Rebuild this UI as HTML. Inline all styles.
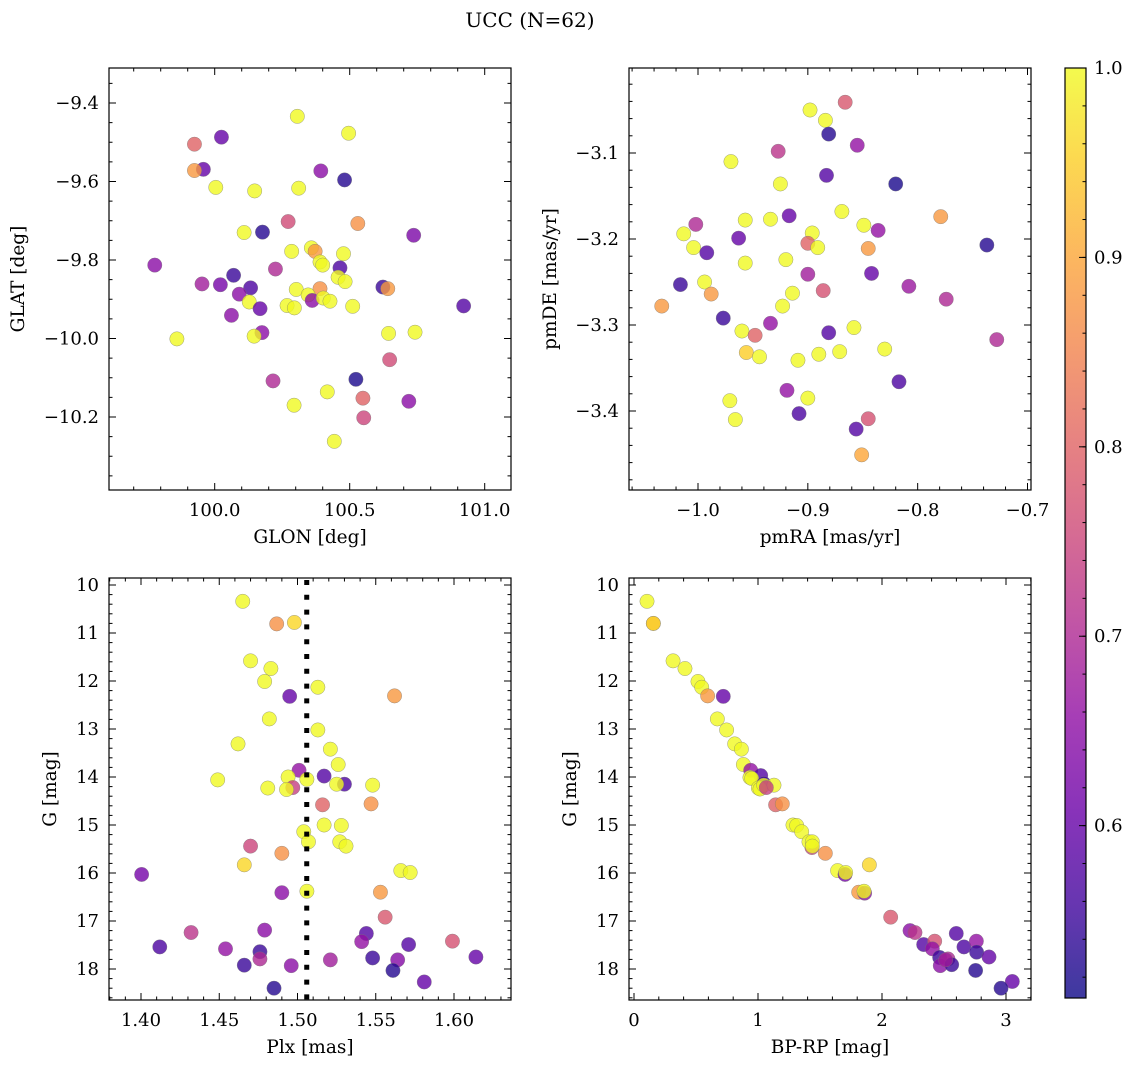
<!DOCTYPE html>
<html><head><meta charset="utf-8"><style>
html,body{margin:0;padding:0;background:#fff;}
svg text{font-family:"DejaVu Serif","Liberation Serif",serif;fill:#000;}
</style></head><body>
<svg id="fig" width="1136" height="1067" viewBox="0 0 1136 1067" xmlns="http://www.w3.org/2000/svg">
<defs>
<linearGradient id="plasma" x1="0" y1="1" x2="0" y2="0"></linearGradient>
</defs>
<text x="530" y="27" font-size="20" text-anchor="middle">UCC (N=62)</text>
<g id="layer"></g>
</svg>
<script>
// ---- data ----
const p1Lon=[100.306,100.496,100.025,99.925,99.958,99.925,100.393,100.481,100.004,100.148,100.311,100.272,100.530,100.109,100.177,100.737,100.285,100.358,100.372,100.477,99.778,100.390,100.400,100.225,100.464,100.070,99.953,100.021,100.133,100.457,100.483,100.091,100.302,100.390,100.346,100.361,100.402,100.427,100.623,100.641,100.128,100.168,100.268,100.295,100.511,100.922,100.062,99.860,100.175,100.146,100.644,100.742,100.648,100.523,100.216,100.417,100.549,100.294,100.719,100.552,100.443];
const p1Lat=[-9.434,-9.477,-9.487,-9.505,-9.569,-9.572,-9.573,-9.596,-9.615,-9.624,-9.617,-9.702,-9.707,-9.730,-9.729,-9.737,-9.778,-9.769,-9.778,-9.784,-9.813,-9.805,-9.813,-9.823,-9.820,-9.839,-9.861,-9.863,-9.871,-9.844,-9.855,-9.887,-9.875,-9.873,-9.889,-9.903,-9.897,-9.905,-9.869,-9.873,-9.907,-9.924,-9.916,-9.922,-9.918,-9.917,-9.941,-10.001,-9.985,-9.994,-9.987,-9.984,-10.054,-10.104,-10.108,-10.136,-10.152,-10.170,-10.160,-10.202,-10.262];
const p1Prob=[1,1,0.6,0.8,0.6,0.88,0.65,0.53,1,1,1,0.76,0.87,1,0.53,0.63,1,1,0.88,1,0.65,1,1,0.7,0.57,0.55,0.68,0.62,0.57,1,1,0.65,1,0.87,1,0.65,1,1,0.55,0.88,1,0.6,1,1,1,0.58,0.65,1,0.65,1,1,1,0.76,0.52,0.7,1,0.8,1,0.65,0.75,1];

const p2Ra=[-0.866,-0.898,-0.884,-0.881,-0.855,-0.927,-0.970,-0.883,-0.820,-0.925,-0.869,-0.779,-0.957,-0.934,-0.917,-1.002,-1.013,-0.896,-0.849,-0.836,-0.900,-0.891,-0.963,-1.004,-0.992,-0.845,-0.737,-0.957,-0.920,-0.900,-0.842,-1.016,-0.994,-0.988,-0.914,-0.886,-0.808,-0.774,-1.033,-0.923,-0.977,-0.960,-0.948,-0.934,-0.881,-0.858,-0.956,-0.944,-0.909,-0.890,-0.871,-0.830,-0.728,-0.817,-0.919,-0.900,-0.971,-0.908,-0.966,-0.845,-0.856,-0.851];
const p2De=[-3.041,-3.050,-3.062,-3.078,-3.091,-3.098,-3.110,-3.126,-3.136,-3.136,-3.168,-3.174,-3.178,-3.177,-3.173,-3.183,-3.194,-3.193,-3.184,-3.190,-3.205,-3.210,-3.199,-3.210,-3.216,-3.211,-3.207,-3.228,-3.224,-3.241,-3.240,-3.253,-3.250,-3.264,-3.263,-3.260,-3.255,-3.270,-3.278,-3.278,-3.292,-3.307,-3.312,-3.298,-3.309,-3.303,-3.332,-3.337,-3.341,-3.334,-3.331,-3.328,-3.317,-3.366,-3.376,-3.385,-3.388,-3.403,-3.410,-3.409,-3.421,-3.451];
const p2Prob=[0.78,1,1,0.53,0.66,0.72,1,0.58,0.52,1,1,0.88,1,1,0.6,0.7,1,1,1,0.66,0.8,1,0.6,1,0.58,0.88,0.53,1,1,0.68,0.6,0.55,1,0.88,1,0.77,0.67,0.7,0.88,1,0.55,1,0.8,0.66,0.58,1,0.95,1,1,1,1,1,0.7,0.57,0.66,1,1,0.57,1,0.77,0.58,0.9];

const p3Plx=[1.465,1.4867,1.498,1.470,1.483,1.479,1.513,1.495,1.562,1.482,1.513,1.462,1.521,1.526,1.501,1.517,1.449,1.494,1.506,1.530,1.525,1.548,1.497,1.481,1.493,1.516,1.547,1.517,1.528,1.504,1.507,1.527,1.531,1.470,1.490,1.466,1.566,1.572,1.4004,1.490,1.506,1.553,1.556,1.432,1.479,1.544,1.541,1.599,1.412,1.454,1.571,1.476,1.476,1.466,1.496,1.521,1.548,1.564,1.614,1.561,1.581,1.485];
const p3G=[10.34,10.81,10.78,11.58,11.74,12.01,12.13,12.32,12.31,12.79,13.02,13.31,13.42,13.74,13.86,13.98,14.06,14.00,14.05,14.15,14.15,14.17,14.22,14.23,14.26,14.58,14.56,15.00,15.01,15.14,15.35,15.35,15.44,15.44,15.59,15.83,15.95,15.99,16.03,16.41,16.38,16.40,16.92,17.24,17.19,17.26,17.43,17.42,17.54,17.58,17.49,17.64,17.79,17.92,17.93,17.81,17.77,17.81,17.75,18.03,18.27,18.40];
const p3Prob=[1,0.87,0.96,1,1,1,1,0.6,0.88,1,1,1,1,1,0.66,0.58,1,1,1,0.57,1,1,0.74,1,1,0.8,0.87,1,1,1,1,1,1,0.75,0.87,0.96,1,1,0.62,0.65,1,0.88,0.78,0.72,0.65,0.58,0.66,0.77,0.57,0.66,0.58,0.55,0.7,0.55,0.65,0.68,0.55,0.64,0.6,0.53,0.6,0.53];
const plxMean=1.5059;

const p4Col=[0.105,0.156,0.156,0.315,0.411,0.516,0.546,0.594,0.720,0.672,0.747,0.812,0.866,0.882,0.941,1.022,0.935,0.949,1.048,1.003,1.016,1.046,1.129,1.067,1.142,1.196,1.282,1.312,1.352,1.435,1.411,1.438,1.438,1.543,1.898,1.642,1.702,1.707,1.812,1.860,1.855,2.070,2.226,2.266,2.336,2.425,2.406,2.465,2.532,2.470,2.562,2.599,2.661,2.761,2.763,2.863,2.755,3.051,2.960,2.513];
const p4G=[10.34,10.80,10.80,11.58,11.74,12.01,12.13,12.31,12.32,12.79,13.02,13.31,13.42,13.74,13.86,13.97,14.01,14.03,14.14,14.23,14.25,14.17,14.17,14.22,14.58,14.56,15.00,15.01,15.14,15.47,15.35,15.35,15.44,15.59,15.83,15.95,16.03,15.99,16.40,16.42,16.38,16.92,17.20,17.24,17.49,17.42,17.58,17.76,17.79,17.93,17.91,17.26,17.54,17.42,17.65,17.75,18.03,18.26,18.40,17.81];
const p4Prob=[1,0.88,0.96,1,1,1,1,0.88,0.6,1,1,1,1,1,0.66,0.58,1,1,0.55,1,1,1,1,0.74,0.8,0.87,1,1,1,0.75,1,1,1,0.87,0.96,1,0.62,1,0.88,0.65,1,0.78,0.65,0.72,0.58,0.77,0.66,0.55,0.7,0.65,0.55,0.58,0.57,0.66,0.55,0.6,0.53,0.6,0.53,0.68];

const cbTicks=[0.6,0.7,0.8,0.9,1.0];
const cbMin=0.509, cbMax=1.0;

// ---- helpers ----
const NS='http://www.w3.org/2000/svg';
const layer=document.getElementById('layer');
function mk(tag,attrs,parent){const e=document.createElementNS(NS,tag);for(const k in attrs)e.setAttribute(k,attrs[k]);(parent||layer).appendChild(e);return e;}
function lin(d0,d1,r0,r1){return v=>r0+(v-d0)*(r1-r0)/(d1-d0);}
const stops=['#0d0887','#41049d','#6a00a8','#8f0da4','#b12a90','#cc4778','#e16462','#f2844b','#fca636','#fcce25','#f0f921'];
function hex(h){return [1,3,5].map(i=>parseInt(h.substr(i,2),16));}
function plasma(t){t=Math.max(0,Math.min(1,t));const f=t*10,i=Math.min(9,Math.floor(f)),u=f-i;const a=hex(stops[i]),b=hex(stops[i+1]);return 'rgb('+a.map((v,k)=>Math.round(v+(b[k]-v)*u)).join(',')+')';}
function pc(p){return plasma((p-cbMin)/(cbMax-cbMin));}
function fmt(v,d){const s=Math.abs(v).toFixed(d);return (v<-1e-9?'\u2212':'')+s;}
const TF=18, LF=18.5;

function panel(cfg){
  const g=mk('g',{});
  
  
  const {x0,x1,y0,y1}=cfg;
  const sx=lin(cfg.xd[0],cfg.xd[1],cfg.xr[0],cfg.xr[1]);
  const sy=lin(cfg.yd[0],cfg.yd[1],cfg.yr[0],cfg.yr[1]);
  const pg=mk('g',{},g);
  
  
  for(let i=0;i<cfg.xs.length;i++){
    const c=mk('circle',{cx:sx(cfg.xs[i]),cy:sy(cfg.ys[i]),r:7.2,fill:pc(cfg.ps[i]),'fill-opacity':0.8,stroke:'#777','stroke-width':0.5,'stroke-opacity':0.7},pg);
    
    
  }
  if(cfg.extra)cfg.extra(g,sx,sy);
  const fr=mk('rect',{x:x0,y:y0,width:x1-x0,height:y1-y0,fill:'none',stroke:'#000','stroke-width':1.2},g);
  
  
  const eps=1e-9;
  function xInv(p){return cfg.xd[0]+(p-cfg.xr[0])*(cfg.xd[1]-cfg.xd[0])/(cfg.xr[1]-cfg.xr[0]);}
  function yInv(p){return cfg.yd[0]+(p-cfg.yr[0])*(cfg.yd[1]-cfg.yd[0])/(cfg.yr[1]-cfg.yr[0]);}
  const xa=xInv(x0),xb=xInv(x1);
  const xs0=Math.ceil(Math.min(xa,xb)/cfg.xminor-eps);
  for(let k=xs0;k*cfg.xminor<=Math.max(xa,xb)+eps;k++){
    const v=k*cfg.xminor,px=sx(v);
    const isMaj=Math.abs(v/cfg.xmajor-Math.round(v/cfg.xmajor))<1e-6;
    const L=isMaj?7:3.5;
    mk('line',{x1:px,x2:px,y1:y1,y2:y1-L,stroke:'#000','stroke-width':1},g);
    mk('line',{x1:px,x2:px,y1:y0,y2:y0+L,stroke:'#000','stroke-width':1},g);
    if(isMaj){const t=mk('text',{x:px,y:y1+26,'font-size':TF,'text-anchor':'middle'},g);t.textContent=fmt(v,cfg.xdec);
      
      }
  }
  const ya=yInv(y0),yb=yInv(y1);
  const ys0=Math.ceil(Math.min(ya,yb)/cfg.yminor-eps);
  for(let k=ys0;k*cfg.yminor<=Math.max(ya,yb)+eps;k++){
    const v=k*cfg.yminor,py=sy(v);
    const isMaj=Math.abs(v/cfg.ymajor-Math.round(v/cfg.ymajor))<1e-6;
    const L=isMaj?7:3.5;
    mk('line',{x1:x0,x2:x0+L,y1:py,y2:py,stroke:'#000','stroke-width':1},g);
    mk('line',{x1:x1,x2:x1-L,y1:py,y2:py,stroke:'#000','stroke-width':1},g);
    if(isMaj){const t=mk('text',{x:x0-10,y:py+6,'font-size':TF,'text-anchor':'end'},g);t.textContent=fmt(v,cfg.ydec);
      
      }
  }
  const xl=mk('text',{x:(x0+x1)/2,y:y1+53,'font-size':LF,'text-anchor':'middle'},g);xl.textContent=cfg.xlabel;
  
  
  const yl=mk('text',{x:0,y:0,'font-size':LF,'text-anchor':'middle',transform:`translate(${cfg.ylx},${(y0+y1)/2}) rotate(-90)`},g);yl.textContent=cfg.ylabel;
  
  
}

panel({name:'glon-glat-panel',x0:109,x1:511,y0:68,y1:490,xd:[100,101],xr:[214.7,484.7],yd:[-9.4,-10.2],yr:[103,417],
  xs:p1Lon,ys:p1Lat,ps:p1Prob,xmajor:0.5,xminor:0.1,ymajor:0.2,yminor:0.05,xdec:1,ydec:1,xlabel:'GLON [deg]',ylabel:'GLAT [deg]',ylx:24});
panel({name:'pm-panel',x0:629,x1:1031,y0:68,y1:490,xd:[-1.0,-0.7],xr:[698,1027.5],yd:[-3.1,-3.4],yr:[153,411],
  xs:p2Ra,ys:p2De,ps:p2Prob,xmajor:0.1,xminor:0.02,ymajor:0.1,yminor:0.02,xdec:1,ydec:1,xlabel:'pmRA [mas/yr]',ylabel:'pmDE [mas/yr]',ylx:556});
panel({name:'plx-g-panel',x0:109,x1:511,y0:578,y1:1000,xd:[1.40,1.60],xr:[141,454],yd:[10,18],yr:[585,969],
  xs:p3Plx,ys:p3G,ps:p3Prob,xmajor:0.05,xminor:0.01,ymajor:1,yminor:0.2,xdec:2,ydec:0,xlabel:'Plx [mas]',ylabel:'G [mag]',ylx:56,
  extra:(g,sx,sy)=>{const l=mk('line',{x1:sx(plxMean),x2:sx(plxMean),y1:580,y2:1000,stroke:'#000','stroke-width':5,'stroke-dasharray':'5 9.8'},g);
    
    }});
panel({name:'cmd-panel',x0:629,x1:1031,y0:578,y1:1000,xd:[0,3],xr:[634,1006],yd:[10,18],yr:[585,969],
  xs:p4Col,ys:p4G,ps:p4Prob,xmajor:1,xminor:0.2,ymajor:1,yminor:0.2,xdec:0,ydec:0,xlabel:'BP-RP [mag]',ylabel:'G [mag]',ylx:576});

const grad=document.getElementById('plasma');
stops.forEach((s,i)=>{mk('stop',{offset:(i/10),'stop-color':s},grad);});
const cb=mk('g',{});


const cbTop=68,cbBot=998,cbX=1065,cbW=21;
mk('rect',{x:cbX,y:cbTop,width:cbW,height:cbBot-cbTop,fill:'url(#plasma)','fill-opacity':0.8},cb);
mk('rect',{x:cbX,y:cbTop,width:cbW,height:cbBot-cbTop,fill:'none',stroke:'#000','stroke-width':1.2},cb);
const cy=lin(cbMin,cbMax,cbBot,cbTop);
for(let v=0.52;v<=1.0001;v+=0.02){const py=cy(v);mk('line',{x1:cbX+cbW,x2:cbX+cbW-3.5,y1:py,y2:py,stroke:'#000','stroke-width':1},cb);}
cbTicks.forEach(v=>{const py=cy(v);mk('line',{x1:cbX+cbW,x2:cbX+cbW-7,y1:py,y2:py,stroke:'#000','stroke-width':1},cb);
  const t=mk('text',{x:cbX+cbW+8,y:py+6,'font-size':TF},cb);t.textContent=v.toFixed(1);
  
  });
</script>
</body></html>
